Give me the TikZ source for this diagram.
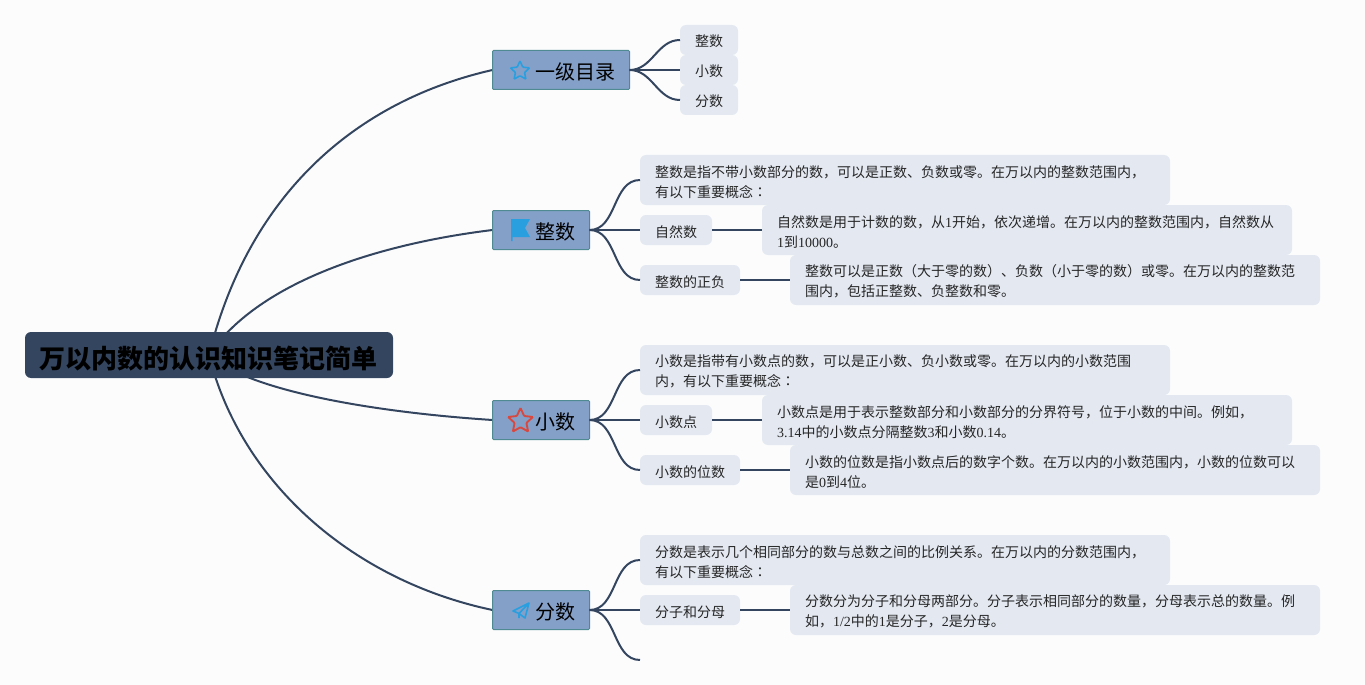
\documentclass[tikz,border=0pt]{standalone}
\usepackage{fontspec}
\setmainfont{Noto Sans CJK SC}
\newfontfamily\digitfont{Liberation Serif}
\newfontfamily\colonfont{Noto Sans CJK TC}
\newcommand{\dg}[1]{{\digitfont #1}}
\newcommand{\cl}{{\colonfont ：}}
\usepackage{tikz}
\usetikzlibrary{arrows.meta, positioning, backgrounds, shapes.geometric}

\definecolor{pagebg}{HTML}{FCFCFD}
\definecolor{rootfill}{HTML}{34455F}
\definecolor{branchfill}{HTML}{84A0C8}
\definecolor{branchline}{HTML}{4F8A93}
\definecolor{leaffill}{HTML}{E3E8F1}
\definecolor{linkcolor}{HTML}{34455F}
\definecolor{iconblue}{HTML}{2A9FE0}
\definecolor{iconred}{HTML}{D9483F}

\begin{document}
\begin{tikzpicture}[
    x=0.75pt, y=-0.75pt,
    node distance=37.5pt,
    outer sep=0pt,
    root/.style={rectangle, fill=rootfill, rounded corners=4.5pt, inner sep=0pt, minimum width=276pt, minimum height=34.5pt, text height=19.5pt, text depth=0pt, text=black, font=\fontsize{19.5}{24}\selectfont\bfseries},
    branch/.style={rectangle, draw=branchline, fill=branchfill, rounded corners=0.75pt, line width=0.75pt, inner ysep=0pt, inner xsep=10.875pt, text width=#1, align=right, minimum height=29.25pt, font=\fontsize{15}{18}\selectfont, text=black, execute at begin node={\rule{0pt}{15.5pt}}},
    leaf/.style={rectangle, fill=leaffill, rounded corners=4.5pt, inner sep=0pt, minimum height=22.5pt, minimum width=#1, text height=10.5pt, text depth=0pt, font=\fontsize{10.5}{15}\selectfont, text=black!85},
    para/.style={rectangle, fill=leaffill, rounded corners=4.5pt, inner ysep=0pt, inner xsep=11.25pt, text width=375pt, minimum height=37.5pt, align=left, font=\fontsize{10.5}{15}\selectfont, text=black!85, execute at begin node={\rule{0pt}{11.5pt}}},
    link/.style={draw=linkcolor, line width=1.5pt},
    staricon/.style={star, star points=5, star point ratio=2.1, draw=#1, line width=1.2pt, inner sep=0pt, rounded corners=0.6pt}
]

\useasboundingbox (0,0) rectangle (1365,685);

\node[root] (title) at (209,355) {万以内数的认识知识笔记简单};

\node[branch=81pt] (mulu) at (561,70) {一级目录};
\node[branch=51pt] (zhengshu) at (541,230) {整数};
\node[branch=51pt] (xiaoshu) at (541,420) {小数};
\node[branch=51pt] (fenshu) at (541,610) {分数};

\node[staricon=iconblue, minimum size=15pt] (mulustar) at (520,71) {};
\node[staricon=iconred, minimum size=19.5pt, line width=1.4pt] (xiaostar) at (520.5,421) {};
\fill[iconblue] (511,219) -- (530,219) -- (525,228) -- (530,237) -- (512.5,237) -- (512.5,241) -- (511,241) -- cycle;
\draw[iconblue, line width=1.2pt, line join=round] (529,603) -- (513,611) -- (519,613.5) -- (529,603) -- (525,618) -- (519,613.5) -- (519,618);

\node[leaf=43.5pt] (muluzheng) at (709,40) {整数};
\node[leaf=43.5pt] (muluxiao) at (709,70) {小数};
\node[leaf=43.5pt] (mulufen) at (709,100) {分数};

\node[para, anchor=west] (zhengtext) at (640,180) {整数是指不带小数部分的数，可以是正数、负数或零。在万以内的整数范围内，\\有以下重要概念\cl};
\node[leaf=54pt, anchor=west] (ziran) at (640,230) {自然数};
\node[para, right=of ziran] (zirantext) {自然数是用于计数的数，从\dg{1}开始，依次递增。在万以内的整数范围内，自然数从\\\dg{1}到\dg{10000}。};
\node[leaf=75pt, anchor=west] (zhengfu) at (640,280) {整数的正负};
\node[para, right=of zhengfu] (zhengfutext) {整数可以是正数（大于零的数）、负数（小于零的数）或零。在万以内的整数范\\围内，包括正整数、负整数和零。};

\node[para, anchor=west] (xiaotext) at (640,370) {小数是指带有小数点的数，可以是正小数、负小数或零。在万以内的小数范围\\内，有以下重要概念\cl};
\node[leaf=54pt, anchor=west] (dian) at (640,420) {小数点};
\node[para, right=of dian] (diantext) {小数点是用于表示整数部分和小数部分的分界符号，位于小数的中间。例如，\\\dg{3.14}中的小数点分隔整数\dg{3}和小数\dg{0.14}。};
\node[leaf=75pt, anchor=west] (weishu) at (640,470) {小数的位数};
\node[para, right=of weishu] (weishutext) {小数的位数是指小数点后的数字个数。在万以内的小数范围内，小数的位数可以\\是\dg{0}到\dg{4}位。};

\node[para, anchor=west] (fentext) at (640,560) {分数是表示几个相同部分的数与总数之间的比例关系。在万以内的分数范围内，\\有以下重要概念\cl};
\node[leaf=75pt, anchor=west] (fenzi) at (640,610) {分子和分母};
\node[para, right=of fenzi] (fenzitext) {分数分为分子和分母两部分。分子表示相同部分的数量，分母表示总的数量。例\\如，\dg{1/2}中的\dg{1}是分子，\dg{2}是分母。};
\coordinate (fenend) at (640,660);

\begin{pgfonlayer}{background}
\fill[pagebg] (0,0) rectangle (1365,685);
\draw[link] (title.center) .. controls (250,190) and (360,100) .. (mulu.west);
\draw[link] (title.center) .. controls (256,285) and (370,245) .. (zhengshu.west);
\draw[link] (title.center) .. controls (247,390) and (370,412) .. (xiaoshu.west);
\draw[link] (title.center) .. controls (240,480) and (350,580) .. (fenshu.west);
\end{pgfonlayer}

\draw[link] (mulu.east) to[out=0, in=180] (muluzheng.west);
\draw[link] (mulu.east) -- (muluxiao.west);
\draw[link] (mulu.east) to[out=0, in=180] (mulufen.west);

\draw[link] (zhengshu.east) to[out=0, in=180] (zhengtext.west);
\draw[link] (zhengshu.east) -- (ziran.west);
\draw[link] (zhengshu.east) to[out=0, in=180] (zhengfu.west);
\draw[link] (ziran) -- (zirantext);
\draw[link] (zhengfu) -- (zhengfutext);

\draw[link] (xiaoshu.east) to[out=0, in=180] (xiaotext.west);
\draw[link] (xiaoshu.east) -- (dian.west);
\draw[link] (xiaoshu.east) to[out=0, in=180] (weishu.west);
\draw[link] (dian) -- (diantext);
\draw[link] (weishu) -- (weishutext);

\draw[link] (fenshu.east) to[out=0, in=180] (fentext.west);
\draw[link] (fenshu.east) -- (fenzi.west);
\draw[link] (fenshu.east) to[out=0, in=180] (fenend);
\draw[link] (fenzi) -- (fenzitext);

\end{tikzpicture}
\end{document}
